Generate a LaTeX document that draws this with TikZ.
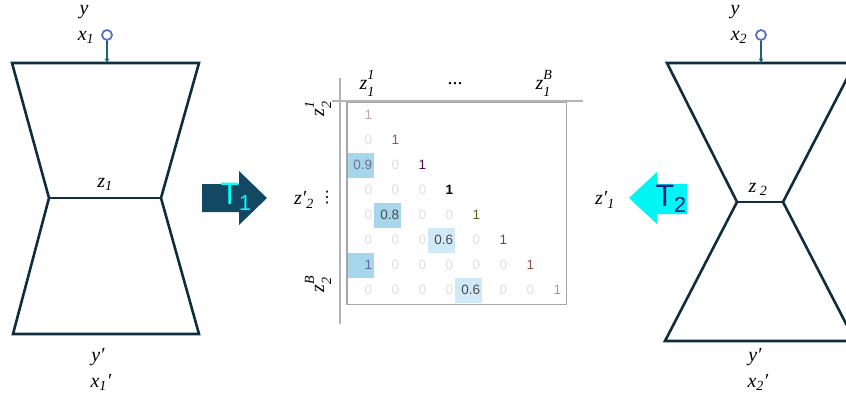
\documentclass[tikz,border=0pt]{standalone}
\usepackage{fontspec}
\setmainfont{Liberation Serif}
\newfontfamily\cellfont{Liberation Sans}
\newfontfamily\symfont{DejaVu Sans}
\usetikzlibrary{matrix}
\definecolor{hgline}{HTML}{0F2D3C}
\definecolor{inblue}{HTML}{5B6FC4}
\definecolor{feedteal}{HTML}{1B6470}
\definecolor{tonedark}{HTML}{124862}
\definecolor{toneaqua}{HTML}{00F5F5}
\definecolor{tcyan}{HTML}{00FFFF}
\definecolor{tnavy}{HTML}{1A237E}
\definecolor{hlblue}{HTML}{A6D6EC}
\definecolor{hlpale}{HTML}{CFEAF6}
\definecolor{axgray}{HTML}{B4B4B4}
\newcommand{\sub}[2]{\textit{#1}\textsubscript{\textit{#2}}}
\newcommand{\idx}[1]{{\fontsize{14}{14}\selectfont\textit{#1}}}
\newcommand{\subsup}[3]{\textit{#1}\makebox[0pt][l]{\raisebox{0.5em}{\idx{#3}}}\raisebox{-0.35em}{\idx{#2}}}

\begin{document}
\begin{tikzpicture}[
      x=1pt,y=-1pt,
      hg/.style={line width=2.6pt,draw=hgline,line join=miter},
      lbl/.style={font=\fontsize{20}{22}\selectfont,inner sep=0pt},
      feedin/.style={circle,draw=inblue,line width=1.8pt,fill=white,minimum size=10pt,inner sep=0pt},
      feed/.style={->,>=stealth,draw=feedteal,line width=1.1pt},
      axis/.style={draw=axgray,line width=1.4pt},
      cell/.style={font=\cellfont\fontsize{13.5}{15}\selectfont,text=gray!25,
        text width=23pt,align=right,inner xsep=2pt,inner ysep=0pt,minimum height=25pt},
      val/.style={text=black!70},
      tlbl/.style={font=\cellfont\fontsize{31}{33}\selectfont,inner sep=0pt}
      ]
      \useasboundingbox (0,0) rectangle (846,400);
      % left hourglass
      \coordinate (a1tl) at (12,63);
      \coordinate (a1tr) at (199,63);
      \coordinate (a1wl) at (49,198);
      \coordinate (a1wr) at (161,198);
      \coordinate (a1bl) at (13,334);
      \coordinate (a1br) at (199,334);
      \draw[hg] (a1tl) -- (a1tr) -- (a1wr) -- (a1br) -- (a1bl) -- (a1wl) -- cycle;
      \draw[hg] (a1wl) -- (a1wr);
      \node[lbl] (y1) at (84,12) {\textit{y}};
      \node[lbl] (x1) at (86,37) {\sub{x}{1}};
      \node[feedin] (in1) at (107,35) {};
      \coordinate (top1) at (107,63);
      \draw[feed] (in1) -- (top1);
      \node[lbl] (z1) at (105,184) {\sub{z}{1}};
      \node[lbl] (yp1) at (98,357) {\textit{y′}};
      \node[lbl] (xp1) at (101,382) {\sub{x}{1}\textit{′}};
      % right hourglass
      \coordinate (a2tl) at (667,63);
      \coordinate (a2tr) at (855,63);
      \coordinate (a2wl) at (737,202);
      \coordinate (a2wr) at (783,202);
      \coordinate (a2bl) at (665,341);
      \coordinate (a2br) at (855,341);
      \draw[hg] (a2tl) -- (a2tr) -- (a2wr) -- (a2br) -- (a2bl) -- (a2wl) -- cycle;
      \draw[hg] (a2wl) -- (a2wr);
      \node[lbl] (y2) at (735,12) {\textit{y}};
      \node[lbl] (x2) at (739,37) {\sub{x}{2}};
      \node[feedin] (in2) at (761,35) {};
      \coordinate (top2) at (761,63);
      \draw[feed] (in2) -- (top2);
      \node[lbl] (z2) at (758,189) {\textit{z}\,\textsubscript{\textit{2}}};
      \node[lbl] (yp2) at (755,357) {\textit{y′}};
      \node[lbl] (xp2) at (758,382) {\sub{x}{2}\textit{′}};
      % transfer arrows
      \fill[tonedark] (202,184) -- (239,184) -- (239,171) -- (267,198)
            -- (239,225) -- (239,212) -- (202,212) -- cycle;
      \node[tlbl,text=tcyan] (t1) at (236,197) {T\textsubscript{1}};
      \fill[toneaqua] (687,184) -- (657,184) -- (657,172) -- (629,198)
            -- (657,224) -- (657,214) -- (687,214) -- cycle;
      \node[tlbl,text=tnavy] (t2) at (671,199) {T\textsubscript{2}};
      \node[lbl] (zp2) at (304,200) {\sub{z′}{2}};
      \node[lbl] (zp1) at (605,200) {\sub{z′}{1}};
      % similarity matrix
      \coordinate (vt) at (340,78);
      \coordinate (vb) at (340,324);
      \coordinate (hl) at (332,101);
      \coordinate (hr) at (583,101);
      \draw[axis] (vt) -- (vb);
      \draw[axis] (hl) -- (hr);
      \matrix (m) [matrix of nodes,anchor=north west,inner sep=0pt,
            column sep=0pt,row sep=0pt,nodes={cell}] at (347,102.5) {
        |[text=red!20!gray!60]|1 \\
        0 & |[text=red!40!gray]|1 \\
        |[fill=hlblue,text=gray!90!blue]|0.9 & 0 & |[text=violet!70!black]|1 \\
        0 & 0 & 0 & |[text=black,font=\cellfont\bfseries\fontsize{13.5}{15}\selectfont]|1 \\
        0 & |[fill=hlblue,val]|0.8 & 0 & 0 & |[text=olive!60!black]|1 \\
        0 & 0 & 0 & |[fill=hlpale,val]|0.6 & 0 & |[text=brown!60!black]|1 \\
        |[fill=hlblue,text=gray!80!blue]|1 & 0 & 0 & 0 & 0 & 0 & |[text=red!30!gray!90!black]|1 \\
        0 & 0 & 0 & 0 & |[fill=hlpale,val]|0.6 & 0 & 0 & |[text=red!30!gray!70]|1 \\
      };
      \draw[draw=gray!70,line width=1.1pt] (m.north west) rectangle ([xshift=3pt,yshift=-1.5pt]m.south east);
      \node[lbl] (h1) at (367,83) {\subsup{z}{1}{1}};
      \node[lbl] (hdots) at (455,84) {...};
      \node[lbl] (hB) at (543,83) {\subsup{z}{1}{B}};
      \node[lbl,rotate=90] (v1) at (318,109) {\subsup{z}{2}{1}};
      \node[lbl,font=\symfont\fontsize{16}{18}\selectfont] (vdots) at (327,198) {⋮};
      \node[lbl,rotate=90] (vB) at (318,285) {\subsup{z}{2}{B}};
    \end{tikzpicture}
\end{document}
